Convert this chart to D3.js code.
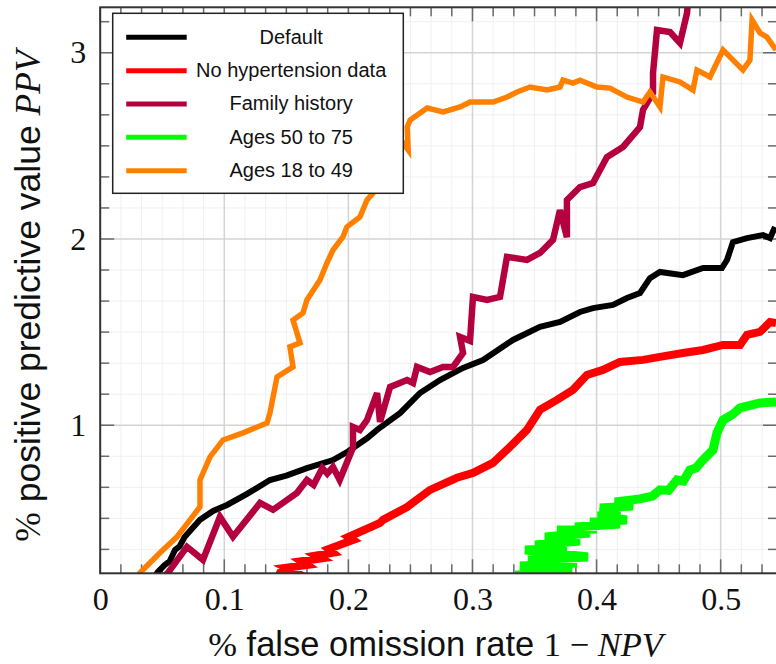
<!DOCTYPE html>
<html>
<head>
<meta charset="utf-8">
<script src="https://cdn.jsdelivr.net/npm/d3@7"></script>
<style>
  html, body { margin: 0; padding: 0; background: #fff; }
  #chart { width: 776px; height: 664px; }
</style>
</head>
<body>
<div id="chart"></div>
<script>
// Series: [false omission rate, PPV]
const defaultPts = [
  [0.043, 0.18], [0.0466, 0.213], [0.052, 0.25], [0.0560, 0.27], [0.0603, 0.331], [0.064, 0.35],
  [0.068, 0.40], [0.0804, 0.492], [0.091, 0.54], [0.1022, 0.572], [0.118, 0.63], [0.1368, 0.706],
  [0.150, 0.73], [0.1666, 0.770], [0.1876, 0.813], [0.200, 0.86], [0.215, 0.93], [0.2231, 0.975],
  [0.2418, 1.066], [0.2577, 1.173], [0.2738, 1.243], [0.2924, 1.308], [0.3085, 1.350], [0.3326, 1.458],
  [0.3544, 1.528], [0.3705, 1.555], [0.3866, 1.608], [0.3971, 1.629], [0.4132, 1.646], [0.4245, 1.683],
  [0.4350, 1.710], [0.4430, 1.790], [0.4511, 1.823], [0.4696, 1.806], [0.4858, 1.844], [0.5010, 1.844],
  [0.5051, 1.887], [0.5099, 1.983], [0.5212, 2.005], [0.5341, 2.021], [0.5398, 2.005], [0.5438, 2.064]
];
const noHypertensionPts = [
  [0.143, 0.18], [0.1449, 0.207], [0.1560, 0.215], [0.1500, 0.235], [0.1666, 0.250], [0.1620, 0.270],
  [0.1780, 0.285], [0.1740, 0.300], [0.1876, 0.315], [0.1840, 0.335], [0.2037, 0.384], [0.2000, 0.400],
  [0.2255, 0.476], [0.2279, 0.492], [0.2473, 0.561], [0.2658, 0.653], [0.2875, 0.718], [0.3004, 0.744],
  [0.3165, 0.798], [0.3302, 0.884], [0.3439, 0.975], [0.3544, 1.083], [0.3681, 1.136], [0.3810, 1.190],
  [0.3922, 1.270], [0.4051, 1.297], [0.4188, 1.340], [0.4374, 1.351], [0.4511, 1.367], [0.4696, 1.388],
  [0.4858, 1.404], [0.5019, 1.431], [0.5156, 1.431], [0.5212, 1.485], [0.5317, 1.501], [0.5398, 1.554],
  [0.5446, 1.549]
];
const familyHistoryPts = [
  [0.050, 0.18], [0.0545, 0.207], [0.0699, 0.347], [0.0828, 0.277], [0.0965, 0.508], [0.1070, 0.401],
  [0.1288, 0.583], [0.1393, 0.546], [0.1586, 0.637], [0.1666, 0.706], [0.1720, 0.680], [0.1790, 0.770],
  [0.1830, 0.740], [0.1876, 0.776], [0.1930, 0.706], [0.2037, 0.880], [0.2037, 0.991], [0.2093, 0.975],
  [0.2150, 1.028], [0.2231, 1.173], [0.2255, 1.018], [0.2336, 1.206], [0.2473, 1.243], [0.2521, 1.227],
  [0.2553, 1.313], [0.2658, 1.286], [0.2763, 1.313], [0.2843, 1.313], [0.2924, 1.388], [0.2900, 1.474],
  [0.2980, 1.453], [0.3004, 1.689], [0.3117, 1.673], [0.3222, 1.689], [0.3278, 1.904], [0.3439, 1.888],
  [0.3544, 1.925], [0.3649, 1.995], [0.3705, 2.155], [0.3761, 2.010], [0.3761, 2.209], [0.3866, 2.279],
  [0.3971, 2.300], [0.4084, 2.440], [0.4213, 2.494], [0.4350, 2.601], [0.4374, 2.693], [0.4455, 2.784],
  [0.4455, 2.891], [0.4487, 3.122], [0.4592, 3.111], [0.4672, 3.052], [0.4729, 3.213], [0.4740, 3.30]
];
const ages50to75Pts = [
  [0.3343, 0.1965], [0.3802, 0.2126], [0.3383, 0.2448], [0.3842, 0.2609], [0.3447, 0.2770],
  [0.3931, 0.2931], [0.3423, 0.3306], [0.3761, 0.3414], [0.3504, 0.3575], [0.3866, 0.3790],
  [0.3584, 0.4004], [0.3947, 0.4219], [0.3681, 0.4380], [0.4003, 0.4434], [0.3826, 0.4541],
  [0.4189, 0.4702], [0.3947, 0.4809], [0.4245, 0.4917], [0.4011, 0.5131], [0.4189, 0.5346],
  [0.4027, 0.5561], [0.4293, 0.5668], [0.4148, 0.5883], [0.4350, 0.6044], [0.4450, 0.6200],
  [0.4511, 0.653], [0.4580, 0.650], [0.4648, 0.706], [0.4700, 0.700], [0.4752, 0.760],
  [0.4800, 0.770], [0.4857, 0.813], [0.4938, 0.867], [0.4970, 0.959], [0.5019, 1.028],
  [0.5100, 1.060], [0.5156, 1.093], [0.5317, 1.120], [0.5446, 1.125]
];
const ages18to49Pts = [
  [0.030, 0.18], [0.0320, 0.207], [0.0482, 0.315], [0.0619, 0.401], [0.0724, 0.492], [0.0804, 0.562],
  [0.0804, 0.706], [0.0885, 0.830], [0.0990, 0.921], [0.1151, 0.959], [0.1344, 1.012], [0.1368, 1.066],
  [0.1425, 1.259], [0.1554, 1.313], [0.1529, 1.421], [0.1610, 1.442], [0.1554, 1.565], [0.1634, 1.603],
  [0.1666, 1.673], [0.1771, 1.780], [0.1827, 1.871], [0.1876, 1.941], [0.1956, 2.011], [0.1988, 2.065],
  [0.2093, 2.118], [0.2150, 2.209], [0.2199, 2.247], [0.2336, 2.370], [0.2442, 2.515], [0.2482, 2.478],
  [0.2474, 2.601], [0.2498, 2.639], [0.2635, 2.703], [0.2764, 2.682], [0.2900, 2.709], [0.2981, 2.735],
  [0.3166, 2.735], [0.3279, 2.762], [0.3359, 2.789], [0.3464, 2.816], [0.3601, 2.800], [0.3705, 2.816],
  [0.3729, 2.853], [0.3810, 2.837], [0.3866, 2.853], [0.4003, 2.816], [0.4108, 2.810], [0.4245, 2.762],
  [0.4374, 2.735], [0.4430, 2.789], [0.4511, 2.709], [0.4535, 2.870], [0.4672, 2.843], [0.4777, 2.800],
  [0.4809, 2.907], [0.4914, 2.870], [0.5019, 3.015], [0.5180, 2.907], [0.5236, 2.961], [0.5253, 3.176],
  [0.5317, 3.106], [0.5373, 3.084], [0.5446, 3.015]
];

const seriesNames = ["Default", "No hypertension data", "Family history", "Ages 50 to 75", "Ages 18 to 49"];
const seriesData = [defaultPts, noHypertensionPts, familyHistoryPts, ages50to75Pts, ages18to49Pts];

const xTicks = [0, 0.1, 0.2, 0.3, 0.4, 0.5];
const xTickLabels = ["0", "0.1", "0.2", "0.3", "0.4", "0.5"];
const yTicks = [1, 2, 3];
const yTickLabels = ["1", "2", "3"];
const xDomain = [0, 0.5454];
const yDomain = [0.205, 3.244];

// styling
const seriesColors = ["#000000", "#ff0000", "#b5003f", "#00ff00", "#ff8000"];
const seriesWidths = [6, 8, 6.5, 9, 5.5];
const serif = "'Liberation Serif', 'DejaVu Serif', serif";
const sans = "'Liberation Sans', Arial, sans-serif";

const margin = { top: 7.3, right: -1, bottom: 90.7, left: 100.2 };
const W = 776, H = 664;
const width = W - margin.left - margin.right;
const height = H - margin.top - margin.bottom;

const root = d3.select("#chart").append("svg")
  .attr("width", W)
  .attr("height", H);

root.append("defs").append("clipPath").attr("id", "plotClip")
  .append("rect").attr("width", width).attr("height", height);

const svg = root.append("g")
  .attr("transform", `translate(${margin.left}, ${margin.top})`);

const x = d3.scaleLinear().domain(xDomain).range([0, width]);
const y = d3.scaleLinear().domain(yDomain).range([height, 0]);

// minor positions: 5 minor ticks between majors
const xMinor = d3.range(0, xDomain[1], 0.1 / 6).filter((v) => Math.abs(v * 10 - Math.round(v * 10)) > 1e-6);
const yMinor = d3.range(0, yDomain[1], 1 / 6).filter((v) => v > yDomain[0] && Math.abs(v - Math.round(v)) > 1e-6);

// minor grid
const grid = svg.append("g").attr("clip-path", "url(#plotClip)");
grid.selectAll(".xmg").data(xMinor).enter().append("line")
  .attr("x1", (d) => x(d)).attr("x2", (d) => x(d))
  .attr("y1", 0).attr("y2", height)
  .attr("stroke", "#f0f0f0").attr("stroke-width", 1);
grid.selectAll(".ymg").data(yMinor).enter().append("line")
  .attr("y1", (d) => y(d)).attr("y2", (d) => y(d))
  .attr("x1", 0).attr("x2", width)
  .attr("stroke", "#f0f0f0").attr("stroke-width", 1);

// major grid
grid.selectAll(".xg").data(xTicks).enter().append("line")
  .attr("x1", (d) => x(d)).attr("x2", (d) => x(d))
  .attr("y1", 0).attr("y2", height)
  .attr("stroke", "#d4d4d4").attr("stroke-width", 1.5);
grid.selectAll(".yg").data(yTicks).enter().append("line")
  .attr("y1", (d) => y(d)).attr("y2", (d) => y(d))
  .attr("x1", 0).attr("x2", width)
  .attr("stroke", "#d4d4d4").attr("stroke-width", 1.5);

// inward ticks on all four sides
const tickG = svg.append("g").attr("stroke", "#6a6a6a").attr("stroke-width", 1.5);
function vTicks(vals, len) {
  vals.forEach((v) => {
    tickG.append("line").attr("x1", x(v)).attr("x2", x(v)).attr("y1", height).attr("y2", height - len);
    tickG.append("line").attr("x1", x(v)).attr("x2", x(v)).attr("y1", 0).attr("y2", len);
  });
}
function hTicks(vals, len) {
  vals.forEach((v) => {
    tickG.append("line").attr("y1", y(v)).attr("y2", y(v)).attr("x1", 0).attr("x2", len);
    tickG.append("line").attr("y1", y(v)).attr("y2", y(v)).attr("x1", width).attr("x2", width - len);
  });
}
vTicks(xTicks, 14); vTicks(xMinor, 9);
hTicks(yTicks, 14); hTicks(yMinor, 9);

// curves
const line = d3.line().x((d) => x(d[0])).y((d) => y(d[1])).curve(d3.curveLinear);
const curves = svg.append("g").attr("clip-path", "url(#plotClip)");
seriesData.forEach((pts, i) => {
  curves.append("path")
    .datum(pts)
    .attr("fill", "none")
    .attr("stroke", seriesColors[i])
    .attr("stroke-width", seriesWidths[i])
    .attr("stroke-linejoin", "miter")
    .attr("stroke-miterlimit", 4)
    .attr("d", line);
});

// axis frame
svg.append("rect")
  .attr("width", width).attr("height", height)
  .attr("fill", "none").attr("stroke", "#333").attr("stroke-width", 2);

// tick labels
const xAxis = svg.append("g")
  .attr("transform", `translate(0, ${height})`)
  .call(d3.axisBottom(x).tickValues(xTicks).tickSize(0).tickPadding(14)
    .tickFormat((d, i) => xTickLabels[i]));
xAxis.select(".domain").remove();
xAxis.selectAll("text").style("font-family", serif).style("font-size", "32px").attr("fill", "#111");

const yAxis = svg.append("g")
  .call(d3.axisLeft(y).tickValues(yTicks).tickSize(0).tickPadding(14)
    .tickFormat((d, i) => yTickLabels[i]));
yAxis.select(".domain").remove();
yAxis.selectAll("text").style("font-family", serif).style("font-size", "32px").attr("fill", "#111");

// axis labels
const xl = svg.append("text")
  .attr("x", width / 2 - 3)
  .attr("y", 656 - margin.top)
  .attr("text-anchor", "middle")
  .style("font-size", "34.5px")
  .attr("fill", "#111");
xl.append("tspan").style("font-family", serif).text("%");
xl.append("tspan").style("font-family", sans).text(" false omission rate ");
xl.append("tspan").style("font-family", serif).text("1 \u2212 ");
xl.append("tspan").style("font-family", serif).style("font-style", "italic").text("NPV");

const yl = svg.append("text")
  .attr("transform", "rotate(-90)")
  .attr("x", -(296 - margin.top))
  .attr("y", 40 - margin.left)
  .attr("text-anchor", "middle")
  .style("font-size", "35.5px")
  .attr("fill", "#111");
yl.append("tspan").style("font-family", serif).text("%");
yl.append("tspan").style("font-family", sans).text(" positive predictive value ");
yl.append("tspan").style("font-family", serif).style("font-style", "italic").text("PPV");

// legend
const legend = root.append("g").attr("transform", "translate(112.7, 13.3)");
legend.append("rect")
  .attr("width", 290.6).attr("height", 180)
  .attr("fill", "#fff").attr("stroke", "#222").attr("stroke-width", 1.5);
seriesNames.forEach((name, i) => {
  const ry = 24 + i * 33.35;
  legend.append("line")
    .attr("x1", 13.5).attr("x2", 74)
    .attr("y1", ry).attr("y2", ry)
    .attr("stroke", seriesColors[i]).attr("stroke-width", 5);
  legend.append("text")
    .attr("x", 178.5).attr("y", ry + 6.5)
    .attr("text-anchor", "middle")
    .style("font-family", sans).style("font-size", "20px")
    .attr("fill", "#111")
    .text(name);
});
</script>
</body>
</html>
